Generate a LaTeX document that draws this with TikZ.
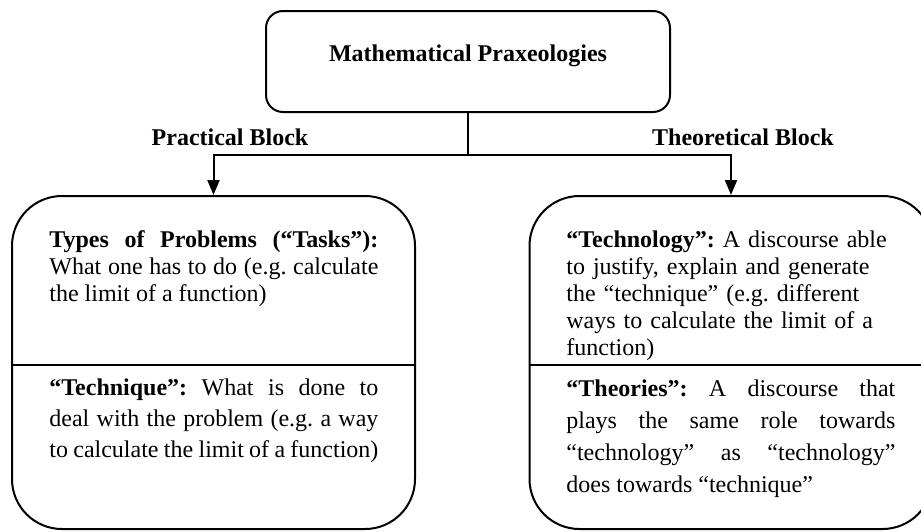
\documentclass[tikz,border=0pt]{standalone}
\usepackage{fontspec}
\setmainfont{Liberation Serif}
\usetikzlibrary{arrows.meta}
\frenchspacing

\begin{document}
\begin{tikzpicture}[
    x=0.5pt, y=-0.5pt,
    box/.style={draw, line width=1pt, rounded corners=8.5pt, minimum width=202pt, minimum height=50.5pt, inner sep=0pt, text height=6pt, text depth=6pt, font=\fontsize{12}{14}\selectfont\bfseries},
    block/.style={draw, line width=1pt, rounded corners=25pt, minimum width=201.5pt, minimum height=166.5pt, inner sep=0pt},
    txt/.style={anchor=base west, inner sep=0pt, text width=164.5pt},
    lbl/.style={anchor=base, inner sep=0pt, font=\fontsize{12}{14}\selectfont\bfseries},
    arr/.style={-{Triangle[length=7.5pt, width=6pt]}, line width=1pt},
]
\useasboundingbox (0,0) rectangle (921,531);

% Top box
\node[box] (praxis) at (468,61.5) {Mathematical Praxeologies};

% Blocks
\node[block] (practical) at (213.5,362.5) {};
\node[block] (theoretical) at (731,362.5) {};
\coordinate (cut) at (0,365);
\draw[line width=1pt] (practical.west |- cut) -- (practical.east |- cut);
\draw[line width=1pt] (theoretical.west |- cut) -- (theoretical.east |- cut);

% Connectors
\path (praxis.south) ++(0,42) coordinate (split);
\draw[line width=1pt] (praxis.south) -- (split);
\draw[arr] (split) -| (practical.north);
\draw[arr] (split) -| (theoretical.north);
\node[lbl] (pblock) at (230,145) {Practical Block};
\node[lbl] (tblock) at (743,145) {Theoretical Block};

% Practical block texts
\node[txt, align=justify, font=\fontsize{12}{13.6}\selectfont] (tasks) at (49,247)
    {\textbf{Types of Problems (“Tasks”):}\linebreak What one has to do (e.g.\ calculate\linebreak the limit of a function)};
\node[txt, align=justify, font=\fontsize{12}{15.5}\selectfont] (technique) at (49,395)
    {\textbf{“Technique”:} What is done to\linebreak deal with the problem (e.g.\ a way\linebreak to calculate the limit of a function)};

% Theoretical block texts
\node[txt, align=left, font=\fontsize{12}{13.6}\selectfont] (technology) at (566,247)
    {\textbf{“Technology”:} A discourse able\\ to justify, explain and generate\\ the “technique” (e.g.\ different\\ ways to calculate the limit of a\\ function)};
\node[txt, align=justify, font=\fontsize{12}{16.15}\selectfont] (theories) at (566,396)
    {\textbf{“Theories”:} A discourse that\linebreak plays the same role towards\linebreak “technology” as “technology”\linebreak does towards “technique”};

\end{tikzpicture}
\end{document}
